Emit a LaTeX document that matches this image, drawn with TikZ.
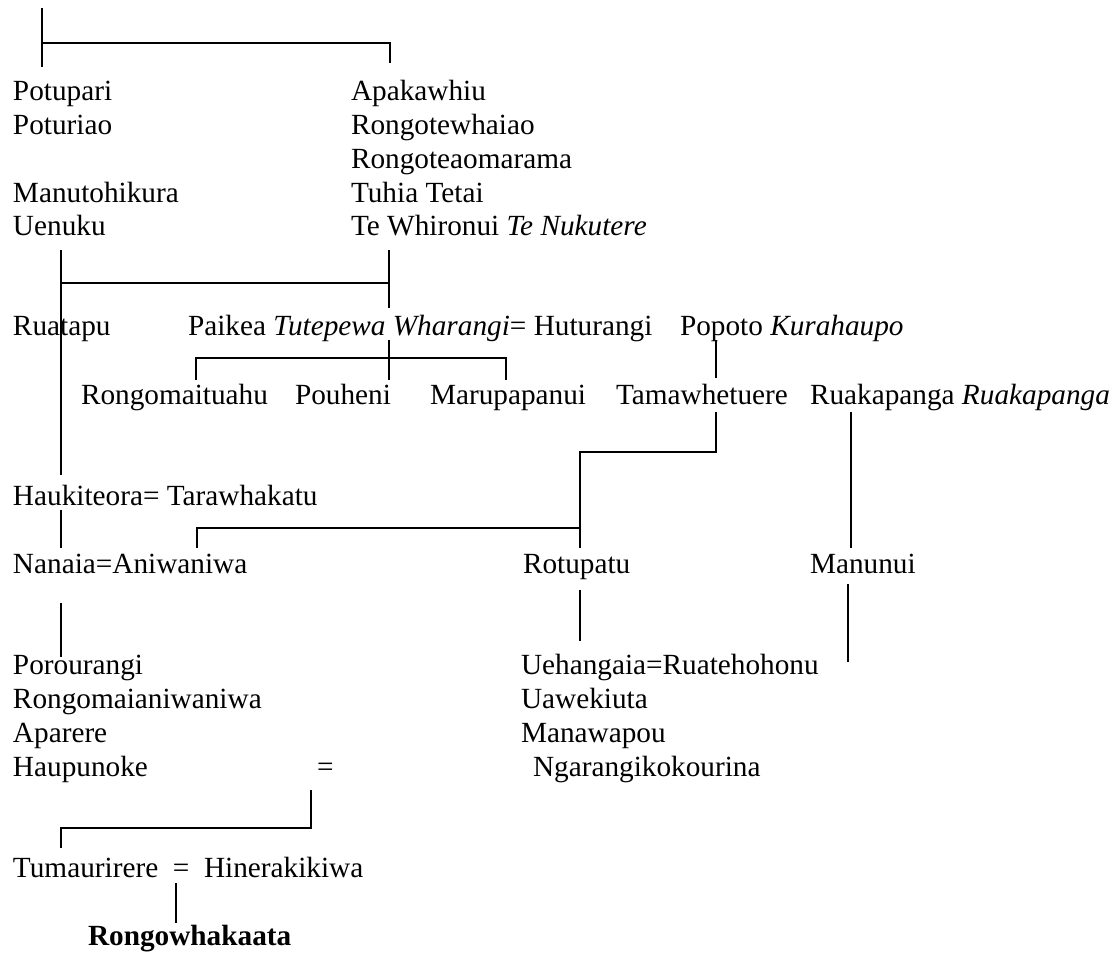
\documentclass[tikz,border=0pt]{standalone}
\usepackage{fontspec}
\setmainfont{Liberation Serif}
\usetikzlibrary{positioning}

\begin{document}
\begin{tikzpicture}[
  x=0.41pt, y=-0.41pt,
  nm/.style={anchor=base west, inner sep=0pt, outer sep=0pt, font=\fontsize{12pt}{13.8pt}\selectfont},
  ln/.style={line width=0.65pt}
]
\useasboundingbox (0,0) rectangle (1117,953);

% upper lines
\node[nm] (potupari) at (13,101) {Potupari};
\node[nm] (poturiao) at (13,134.75) {Poturiao};
\node[nm] (manuto) at (13,202.25) {Manutohikura};
\node[nm] (uenuku) at (13,236) {Uenuku};
\node[nm] (apakawhiu) at (351,101) {Apakawhiu};
\node[nm] (rongotew) at (351,134.75) {Rongotewhaiao};
\node[nm] (rongotea) at (351,168.5) {Rongoteaomarama};
\node[nm] (tuhia) at (351,202.25) {Tuhia Tetai};
\node[nm] (whironui) at (351,236) {Te Whironui \textit{Te Nukutere}};

\node[nm] (ruatapu) at (13,336) {Ruatapu};
\node[nm] (paikea) at (188,336) {Paikea \textit{Tutepewa Wharangi}= Huturangi};
\node[nm] (popoto) at (680,336) {Popoto \textit{Kurahaupo}};

\node[nm] (rongomai) at (81,404.75) {Rongomaituahu};
\node[nm] (pouheni) at (295,404.75) {Pouheni};
\node[nm] (marupa) at (430,404.75) {Marupapanui};
\node[nm] (tamaw) at (616,404.75) {Tamawhetuere};
\node[nm] (ruakap) at (810,404.75) {Ruakapanga \textit{Ruakapanga}};

\node[nm] (haukit) at (13,506) {Haukiteora= Tarawhakatu};
\node[nm] (nanaia) at (13,573.5) {Nanaia=Aniwaniwa};
\node[nm] (rotupatu) at (523,573.5) {Rotupatu};
\node[nm] (manunui) at (810,573.5) {Manunui};

% lower lines
\node[nm] (porou) at (13,674.75) {Porourangi};
\node[nm] (rongoani) at (13,708.5) {Rongomaianiwaniwa};
\node[nm] (aparere) at (13,742.25) {Aparere};
\node[nm] (haupu) at (13,776) {Haupunoke};
\node[nm] (haupueq) at (317,776) {=};
\node[nm] (uehang) at (521,674.75) {Uehangaia=Ruatehohonu};
\node[nm] (uaweki) at (521,708.5) {Uawekiuta};
\node[nm] (manawa) at (521,742.25) {Manawapou};
\node[nm] (ngaran) at (533,776) {Ngarangikokourina};

\node[nm] (tumau) at (13,877.25) {Tumaurirere~~=~~Hinerakikiwa};
\node[nm] (rongow) at (88,945) {\textbf{Rongowhakaata}};

% line ends
\coordinate (top-d) at (42,8);
\coordinate (potu-u) at (42,67);
\coordinate (top-l) at (42,43);
\coordinate (top-r) at (390,43);
\coordinate (apak-u) at (390,63);

\coordinate (uen-d) at (61,250);
\coordinate (hau-u) at (61,475);
\coordinate (mid-l) at (61,283);
\coordinate (mid-r) at (389,283);
\coordinate (whi-d) at (389,250);
\coordinate (pai-u) at (389,308);
\coordinate (pai-d) at (389,340);
\coordinate (kid-c) at (389,380);
\coordinate (kid-lt) at (196,358);
\coordinate (kid-rt) at (506,358);
\coordinate (kid-l) at (196,380);
\coordinate (kid-r) at (506,380);

\coordinate (pop-d) at (716,340);
\coordinate (tam-u) at (716,378);
\coordinate (tam-d) at (716,412);
\coordinate (tam-j) at (716,452);
\coordinate (rot-j) at (580,452);
\coordinate (ani-j) at (580,528);
\coordinate (rot-u) at (580,548);
\coordinate (ani-l) at (197,528);
\coordinate (ani-u) at (197,548);
\coordinate (rua-d) at (851,412);
\coordinate (man-u) at (851,548);

\coordinate (hau-d) at (61,510);
\coordinate (nan-u) at (61,548);
\coordinate (nan-d) at (61,603);
\coordinate (por-u) at (61,657);
\coordinate (rot-d) at (580,590);
\coordinate (ueh-u) at (580,641);
\coordinate (man-d) at (848,584);
\coordinate (man-e) at (848,662);

\coordinate (eq-d) at (311,790);
\coordinate (eq-j) at (311,828);
\coordinate (tum-j) at (61,828);
\coordinate (tum-u) at (61,848);
\coordinate (tum-d) at (176,883);
\coordinate (rgw-u) at (176,923);

\draw[ln] (top-d) -- (potu-u);
\draw[ln] (top-l) -- (top-r) -- (apak-u);

\draw[ln] (uen-d) -- (hau-u);
\draw[ln] (mid-l) -- (mid-r);
\draw[ln] (whi-d) -- (pai-u);
\draw[ln] (pai-d) -- (kid-c);
\draw[ln] (kid-l) -- (kid-lt) -- (kid-rt) -- (kid-r);

\draw[ln] (pop-d) -- (tam-u);
\draw[ln] (tam-d) -- (tam-j) -- (rot-j) -- (rot-u);
\draw[ln] (ani-j) -- (ani-l) -- (ani-u);
\draw[ln] (rua-d) -- (man-u);

\draw[ln] (hau-d) -- (nan-u);
\draw[ln] (nan-d) -- (por-u);
\draw[ln] (rot-d) -- (ueh-u);
\draw[ln] (man-d) -- (man-e);

\draw[ln] (eq-d) -- (eq-j) -- (tum-j) -- (tum-u);
\draw[ln] (tum-d) -- (rgw-u);
\end{tikzpicture}
\end{document}
